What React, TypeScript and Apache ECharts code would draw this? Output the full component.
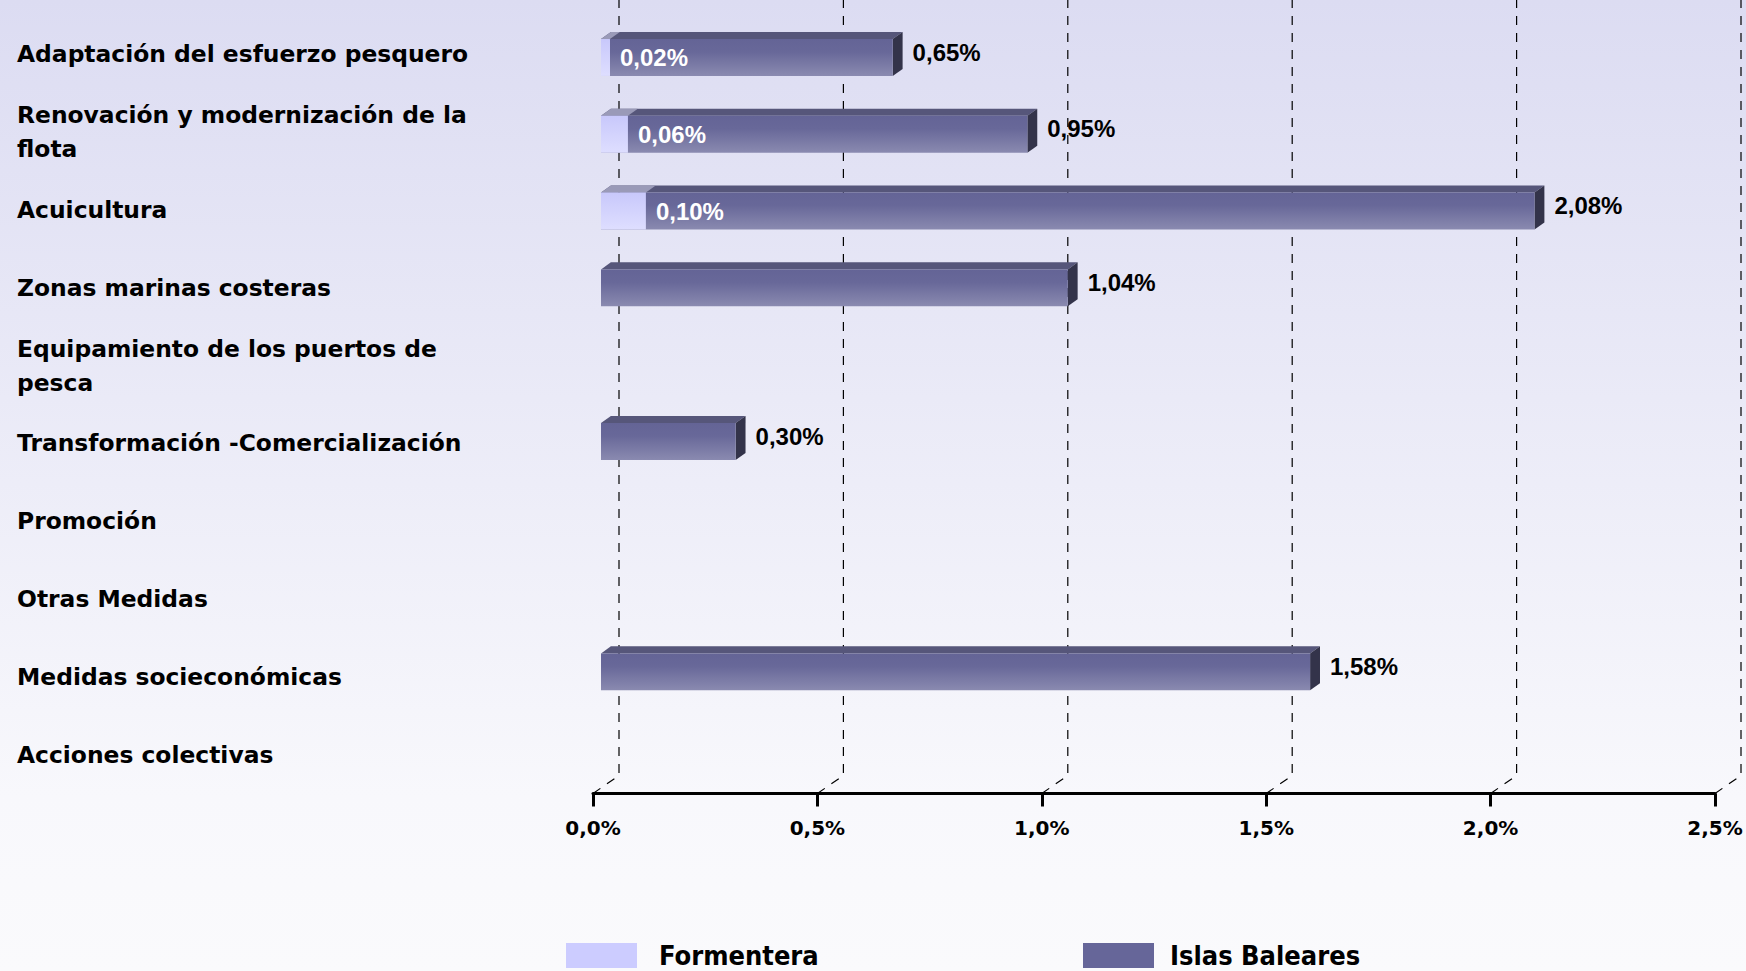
import React, { useEffect, useRef } from 'react';
import * as echarts from 'echarts';

const categories = [
  'Adaptación del esfuerzo pesquero',
  'Renovación y modernización de la\nflota',
  'Acuicultura',
  'Zonas marinas costeras',
  'Equipamiento de los puertos de\npesca',
  'Transformación -Comercialización',
  'Promoción',
  'Otras Medidas',
  'Medidas socieconómicas',
  'Acciones colectivas',
];
const formentera: (number | null)[] = [0.02, 0.06, 0.1, null, null, null, null, null, null, null];
const baleares: (number | null)[] = [0.65, 0.95, 2.08, 1.04, null, 0.3, null, null, 1.58, null];
const xTicks = [0, 0.5, 1, 1.5, 2, 2.5];

const fmt = (v: number, d: number) => v.toFixed(d).replace('.', ',') + '%';

const LABEL_FONT = "'DejaVu Sans', sans-serif";
const VALUE_FONT = "'Liberation Sans', Arial, sans-serif";
const LEGEND_FONT = "'DejaVu Sans Condensed', 'Liberation Sans Narrow', 'DejaVu Sans', sans-serif";

function makeBarRenderer(kind: 'front' | 'back') {
  return (params: any, api: any) => {
    const v = api.value(0);
    const idx = api.value(1);
    if (v == null || isNaN(v)) return null;
    const p0 = api.coord([0, idx]);
    const p1 = api.coord([v, idx]);
    const band = api.size([0, 1])[1];
    const c = p0[1];
    const frontTop = c - band * 0.195;
    const frontBot = c + band * 0.286;
    const dy = band * 0.092;
    const dx = dy * 1.4;
    const x0 = p0[0];
    const x1 = p1[0];
    const children: any[] = [];
    if (kind === 'back') {
      children.push({
        type: 'polygon',
        shape: { points: [[x0, frontTop], [x0 + dx, frontTop - dy], [x1 + dx, frontTop - dy], [x1, frontTop]] },
        style: { fill: '#56567a' },
      });
      children.push({
        type: 'polygon',
        shape: { points: [[x1, frontTop], [x1 + dx, frontTop - dy], [x1 + dx, frontBot - dy], [x1, frontBot]] },
        style: { fill: '#33334a' },
      });
      children.push({
        type: 'rect',
        shape: { x: x0, y: frontTop, width: x1 - x0, height: frontBot - frontTop },
        style: {
          fill: new echarts.graphic.LinearGradient(0, 0, 0, 1, [
            { offset: 0, color: '#646496' },
            { offset: 0.35, color: '#686899' },
            { offset: 1, color: '#8a8ab0' },
          ]),
        },
      });
      children.push({
        type: 'text',
        x: x1 + dx + 10,
        y: c - 2,
        style: {
          text: fmt(v, 2),
          fill: '#000',
          font: `bold 24px ${VALUE_FONT}`,
          align: 'left',
          verticalAlign: 'middle',
        },
      });
    } else {
      children.push({
        type: 'polygon',
        shape: { points: [[x0, frontTop], [x0 + dx, frontTop - dy], [x1 + dx, frontTop - dy], [x1, frontTop]] },
        style: { fill: '#9a9ab8' },
      });
      children.push({
        type: 'rect',
        shape: { x: x0, y: frontTop, width: x1 - x0, height: frontBot - frontTop },
        style: {
          fill: new echarts.graphic.LinearGradient(0, 0, 0, 1, [
            { offset: 0, color: '#c8c8fb' },
            { offset: 1, color: '#dedeff' },
          ]),
        },
      });
      children.push({
        type: 'text',
        x: x1 + 10,
        y: (frontTop + frontBot) / 2,
        style: {
          text: fmt(v, 2),
          fill: '#ffffff',
          font: `bold 24px ${VALUE_FONT}`,
          align: 'left',
          verticalAlign: 'middle',
        },
      });
    }
    return { type: 'group', children };
  };
}

function gridRenderer(params: any, api: any) {
  const v = api.value(0);
  const p = api.coord([v, 0]);
  const cs = params.coordSys;
  const bottom = cs.y + cs.height;
  const x = p[0];
  return {
    type: 'polyline',
    shape: { points: [[x, bottom], [x + 26, bottom - 18], [x + 26, 0]] },
    style: { stroke: '#000', lineWidth: 1.2, lineDash: [9, 8], fill: null },
  };
}

export default function App() {
  const ref = useRef<HTMLDivElement>(null);
  useEffect(() => {
    if (!ref.current) return;
    const chart = echarts.init(ref.current, undefined, { renderer: 'svg' });
    const legendText = { fontFamily: LEGEND_FONT, fontWeight: 'bold', fontSize: 27, lineHeight: 27, color: '#000' };
    const option: any = {
      animation: false,
      backgroundColor: new echarts.graphic.LinearGradient(0, 0, 0, 1, [
        { offset: 0, color: '#dcdcf2' },
        { offset: 0.82, color: '#f8f8fc' },
        { offset: 1, color: '#fafafc' },
      ]),
      grid: [
        { left: 601, width: 1122, top: 15.6, height: 768 },
        { left: 593, width: 1122, top: 15.5, height: 778 },
      ],
      xAxis: [
        { gridIndex: 0, type: 'value', min: 0, max: 2.5, show: false },
        {
          gridIndex: 1,
          type: 'value',
          min: 0,
          max: 2.5,
          interval: 0.5,
          axisLine: { show: true, lineStyle: { color: '#000', width: 3 } },
          axisTick: { show: true, length: 13, lineStyle: { color: '#000', width: 3 } },
          splitLine: { show: false },
          axisLabel: {
            formatter: (v: number) => fmt(v, 1),
            margin: 24,
            fontFamily: LABEL_FONT,
            fontWeight: 'bold',
            fontSize: 20,
            color: '#000',
          },
        },
      ],
      yAxis: [
        { gridIndex: 0, type: 'category', data: categories, inverse: true, show: false },
        {
          gridIndex: 1,
          type: 'category',
          data: categories,
          inverse: true,
          axisLine: { show: false },
          axisTick: { show: false },
          splitLine: { show: false },
          axisLabel: {
            interval: 0,
            align: 'left',
            margin: 576,
            fontFamily: LABEL_FONT,
            fontWeight: 'bold',
            fontSize: 23.4,
            lineHeight: 34,
            color: '#000',
          },
        },
      ],
      legend: [
        {
          data: ['Formentera'],
          left: 566,
          top: 942,
          padding: 0,
          icon: 'rect',
          itemWidth: 71,
          itemHeight: 25,
          selectedMode: false,
          textStyle: { ...legendText, padding: [0, 0, 0, 17] },
        },
        {
          data: ['Islas Baleares'],
          left: 1083,
          top: 942,
          padding: 0,
          icon: 'rect',
          itemWidth: 71,
          itemHeight: 25,
          selectedMode: false,
          textStyle: { ...legendText, padding: [0, 0, 0, 11] },
        },
      ],
      series: [
        {
          type: 'custom',
          name: 'grid',
          xAxisIndex: 1,
          yAxisIndex: 1,
          silent: true,
          clip: false,
          z: 1,
          renderItem: gridRenderer,
          encode: { x: 0, y: 1 },
          data: xTicks.map((v) => [v, 0]),
        },
        {
          type: 'custom',
          name: 'Islas Baleares',
          xAxisIndex: 0,
          yAxisIndex: 0,
          clip: false,
          z: 3,
          itemStyle: { color: '#666699' },
          renderItem: makeBarRenderer('back'),
          encode: { x: 0, y: 1 },
          data: baleares.map((v, i) => [v, i]).filter((d) => d[0] != null),
        },
        {
          type: 'custom',
          name: 'Formentera',
          xAxisIndex: 0,
          yAxisIndex: 0,
          clip: false,
          z: 4,
          itemStyle: { color: '#ccccff' },
          renderItem: makeBarRenderer('front'),
          encode: { x: 0, y: 1 },
          data: formentera.map((v, i) => [v, i]).filter((d) => d[0] != null),
        },
      ],
    };
    chart.setOption(option);
    return () => chart.dispose();
  }, []);
  return (
    <div
      ref={ref}
      style={{ position: 'absolute', left: 0, top: 0, width: 1746, height: 971 }}
    />
  );
}
